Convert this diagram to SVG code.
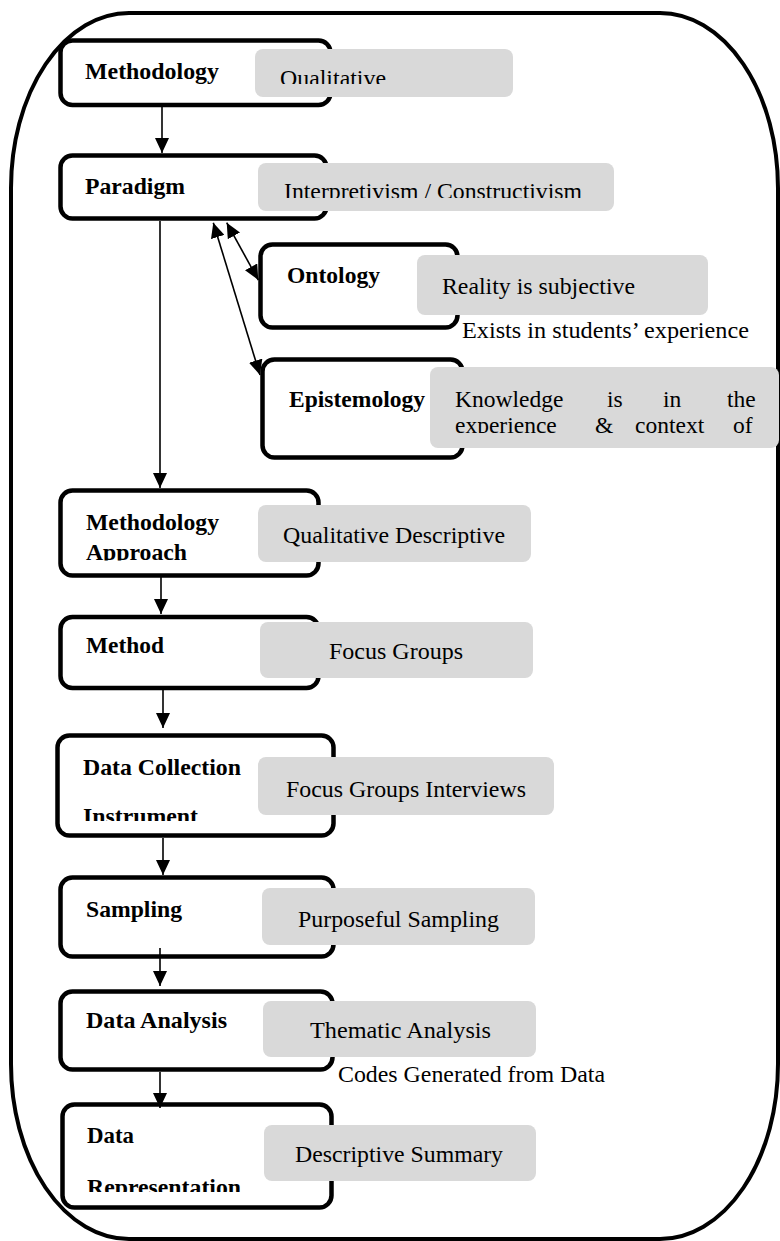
<svg xmlns="http://www.w3.org/2000/svg" width="780" height="1241" viewBox="0 0 780 1241">
<style>
.frame{fill:none;stroke:#000;stroke-width:4}
.box{fill:#fff;stroke:#000;stroke-width:4.5}
.val{fill:#d9d9d9;stroke:none}
.lb{font-family:"Liberation Serif","Times New Roman",serif;font-weight:bold;font-size:23.5px;fill:#000}
.tx{font-family:"Liberation Serif","Times New Roman",serif;font-size:23.5px;fill:#000}
.cn{fill:none;stroke:#000;stroke-width:1.6}
</style>
<defs>
<marker id="ah" viewBox="0 0 15 14" refX="15" refY="7" markerWidth="15" markerHeight="14" markerUnits="userSpaceOnUse" orient="auto-start-reverse"><path d="M0,0 L15,7 L0,14 z" fill="#000"/></marker>
<clipPath id="c1"><rect x="250" y="40" width="300" height="44"/></clipPath>
<clipPath id="c2"><rect x="250" y="150" width="400" height="48"/></clipPath>
<clipPath id="c3"><rect x="420" y="360" width="360" height="73"/></clipPath>
<clipPath id="c4"><rect x="60" y="480" width="200" height="80.5"/></clipPath>
<clipPath id="c5"><rect x="60" y="730" width="200" height="91"/></clipPath>
<clipPath id="c6"><rect x="60" y="1100" width="200" height="92"/></clipPath>
</defs>
<rect class="frame" x="11" y="13" width="767" height="1226" rx="118" ry="175"/>
<g id="n-methodology">
<rect class="box" x="60.5" y="40.5" width="270" height="64.5" rx="12"/>
<text class="lb" x="85" y="78.5" textLength="134" lengthAdjust="spacingAndGlyphs">Methodology</text>
<rect class="val" x="255" y="49" width="258" height="48" rx="8"/>
<text class="tx" x="280" y="85.5" textLength="106" lengthAdjust="spacingAndGlyphs" clip-path="url(#c1)">Qualitative</text>
</g>
<g id="n-paradigm">
<rect class="box" x="60.5" y="155.5" width="266" height="63" rx="12"/>
<text class="lb" x="85" y="194" textLength="100" lengthAdjust="spacingAndGlyphs">Paradigm</text>
<rect class="val" x="258" y="163" width="356" height="48" rx="8"/>
<text class="tx" x="284" y="198.5" textLength="298" lengthAdjust="spacingAndGlyphs" clip-path="url(#c2)">Interpretivism / Constructivism</text>
</g>
<g id="n-ontology">
<rect class="box" x="260.5" y="244.5" width="197" height="83" rx="12"/>
<text class="lb" x="287" y="283" textLength="93" lengthAdjust="spacingAndGlyphs">Ontology</text>
<rect class="val" x="417" y="255" width="291" height="60" rx="8"/>
<text class="tx" x="442" y="294" textLength="193" lengthAdjust="spacingAndGlyphs">Reality is subjective</text>
<text class="tx" x="462" y="338" textLength="287" lengthAdjust="spacingAndGlyphs">Exists in students’ experience</text>
</g>
<g id="n-epistemology">
<rect class="box" x="262.5" y="359.5" width="200" height="98" rx="12"/>
<text class="lb" x="289" y="407" textLength="136" lengthAdjust="spacingAndGlyphs">Epistemology</text>
<rect class="val" x="430" y="367" width="349" height="81" rx="8"/>
<text class="tx" y="406.7"><tspan x="455">Knowledge</tspan><tspan x="607">is</tspan><tspan x="663">in</tspan><tspan x="727">the</tspan></text>
<text class="tx" y="432.7" clip-path="url(#c3)"><tspan x="455">experience</tspan><tspan x="595">&amp;</tspan><tspan x="635">context</tspan><tspan x="733">of</tspan></text>
</g>
<g id="n-approach">
<rect class="box" x="60.5" y="490.5" width="258" height="85" rx="12"/>
<text class="lb" x="86" y="530" textLength="133" lengthAdjust="spacingAndGlyphs">Methodology</text>
<text class="lb" x="86" y="559.5" textLength="101" lengthAdjust="spacingAndGlyphs" clip-path="url(#c4)">Approach</text>
<rect class="val" x="258" y="505" width="273" height="57" rx="8"/>
<text class="tx" x="283" y="543" textLength="222" lengthAdjust="spacingAndGlyphs">Qualitative Descriptive</text>
</g>
<g id="n-method">
<rect class="box" x="60.5" y="617" width="258" height="71" rx="12"/>
<text class="lb" x="86" y="653" textLength="78" lengthAdjust="spacingAndGlyphs">Method</text>
<rect class="val" x="260" y="622" width="273" height="56" rx="8"/>
<text class="tx" x="329" y="659" textLength="134" lengthAdjust="spacingAndGlyphs">Focus Groups</text>
</g>
<g id="n-instrument">
<rect class="box" x="57.5" y="735.5" width="276" height="100" rx="12"/>
<text class="lb" x="83" y="775" textLength="158" lengthAdjust="spacingAndGlyphs">Data Collection</text>
<text class="lb" x="83" y="824" textLength="115" lengthAdjust="spacingAndGlyphs" clip-path="url(#c5)">Instrument</text>
<rect class="val" x="258" y="757" width="296" height="58" rx="8"/>
<text class="tx" x="286" y="797" textLength="240" lengthAdjust="spacingAndGlyphs">Focus Groups Interviews</text>
</g>
<g id="n-sampling">
<rect class="box" x="60.5" y="877.5" width="273" height="79" rx="12"/>
<text class="lb" x="86" y="917" textLength="96" lengthAdjust="spacingAndGlyphs">Sampling</text>
<rect class="val" x="262" y="888" width="273" height="57" rx="8"/>
<text class="tx" x="298" y="927" textLength="201" lengthAdjust="spacingAndGlyphs">Purposeful Sampling</text>
</g>
<g id="n-analysis">
<rect class="box" x="60.5" y="991.5" width="272" height="78" rx="12"/>
<text class="lb" x="86" y="1028" textLength="141" lengthAdjust="spacingAndGlyphs">Data Analysis</text>
<rect class="val" x="263" y="1001" width="273" height="56" rx="8"/>
<text class="tx" x="310" y="1038" textLength="181" lengthAdjust="spacingAndGlyphs">Thematic Analysis</text>
<text class="tx" x="338" y="1082" textLength="267" lengthAdjust="spacingAndGlyphs">Codes Generated from Data</text>
</g>
<g id="n-representation">
<rect class="box" x="62.5" y="1104.5" width="269" height="103" rx="12"/>
<text class="lb" x="87" y="1143" textLength="47" lengthAdjust="spacingAndGlyphs">Data</text>
<text class="lb" x="87" y="1194.5" textLength="154" lengthAdjust="spacingAndGlyphs" clip-path="url(#c6)">Representation</text>
<rect class="val" x="264" y="1125" width="272" height="56" rx="8"/>
<text class="tx" x="295" y="1162" textLength="208" lengthAdjust="spacingAndGlyphs">Descriptive Summary</text>
</g>
<g id="connectors">
<line class="cn" x1="162" y1="107" x2="162" y2="153" marker-end="url(#ah)"/>
<line class="cn" x1="160" y1="221" x2="160" y2="488" marker-end="url(#ah)"/>
<line class="cn" x1="226.7" y1="222.7" x2="258.3" y2="280" marker-start="url(#ah)" marker-end="url(#ah)"/>
<line class="cn" x1="213.3" y1="222.7" x2="260" y2="375" marker-start="url(#ah)" marker-end="url(#ah)"/>
<line class="cn" x1="161" y1="577" x2="161" y2="614" marker-end="url(#ah)"/>
<line class="cn" x1="163" y1="690" x2="163" y2="728" marker-end="url(#ah)"/>
<line class="cn" x1="163" y1="838" x2="163" y2="875" marker-end="url(#ah)"/>
<line class="cn" x1="160" y1="948" x2="160" y2="986" marker-end="url(#ah)"/>
<line class="cn" x1="160" y1="1072" x2="160" y2="1108" marker-end="url(#ah)"/>
</g>
</svg>
